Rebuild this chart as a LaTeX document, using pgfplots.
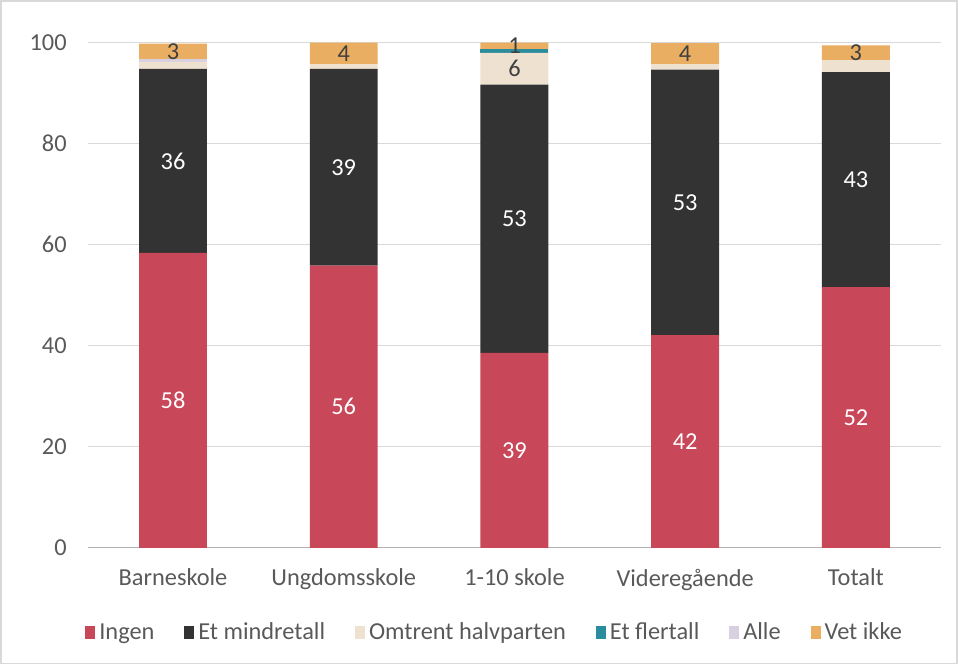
\documentclass[border=0pt]{standalone}
\usepackage{pgfplots}
\pgfplotsset{compat=1.18}
\usepackage{pgfplotstable}
\usepackage{fontspec}
\setmainfont{Carlito}
\definecolor{cIngen}{HTML}{C8485A}
\definecolor{cMind}{HTML}{333333}
\definecolor{cHalv}{HTML}{EEE1D0}
\definecolor{cFler}{HTML}{2A8C9C}
\definecolor{cAlle}{HTML}{D8D0E0}
\definecolor{cVet}{HTML}{E9AE61}
\definecolor{cText}{HTML}{595959}
\definecolor{cLab}{HTML}{404040}
\pgfplotstableread{
x ingen ingenl mind mindl halv halvl fler alle vet vetl
0 58.4 58 36.4 36 1.4 {} 0.0 0.6 3.0 3
1 55.9 56 38.9 39 0.9 {} 0.0 0.0 4.3 4
2 38.6 39 53.1 53 6.3 6 0.7 0.0 1.3 1
3 42.1 42 52.6 53 1.0 {} 0.0 0.0 4.2 4
4 51.6 52 42.6 43 2.3 {} 0.0 0.0 3.0 3
}\data
\begin{document}
\begin{tikzpicture}
\draw[black!15, line width=0.8pt] (-43.5pt,-58pt) rectangle (435.5pt,274pt);
\begin{axis}[
  at={(0,0)}, anchor=south west,
  scale only axis, width=427.5pt, height=253pt,
  ybar stacked, bar width=34pt,
  xmin=-0.5, xmax=4.5, ymin=0, ymax=100,
  xtick={0,...,4},
  xticklabels={Barneskole,Ungdomsskole,1-10 skole,Videregående,Totalt},
  ytick={0,20,...,100},
  ymajorgrids, grid style={draw=black!15, line width=0.5pt},
  axis line style={draw=none},
  major tick length=0pt,
  tick label style={font=\fontsize{12.2}{14}\selectfont, text=cText},
  /pgf/number format/assume math mode=true,
  yticklabel style={xshift=-7pt},
  xticklabel style={yshift=-7pt},
  legend columns=6,
  legend style={at={(0.478,-0.168)}, anchor=center, draw=none, fill=none,
    font=\fontsize{12.2}{14}\selectfont, text=cText,
    /tikz/every even column/.append style={column sep=13pt}},
  legend image code/.code={\fill[#1] (0pt,-3pt) rectangle (5pt,3.5pt);},
  point meta=explicit symbolic,
  every node near coord/.append style={anchor=center,
    font=\fontsize{12.2}{14}\selectfont},
]
\addplot[fill=cIngen, draw=none, nodes near coords, every node near coord/.append style={text=white}] table[x=x, y=ingen, meta=ingenl] {\data};
\addplot[fill=cMind, draw=none, nodes near coords, every node near coord/.append style={text=white}] table[x=x, y=mind, meta=mindl] {\data};
\addplot[fill=cHalv, draw=none, nodes near coords, every node near coord/.append style={text=cLab}] table[x=x, y=halv, meta=halvl] {\data};
\addplot[fill=cFler, draw=none] table[x=x, y=fler] {\data};
\addplot[fill=cAlle, draw=none] table[x=x, y=alle] {\data};
\addplot[fill=cVet, draw=none, nodes near coords, every node near coord/.append style={text=cLab}] table[x=x, y=vet, meta=vetl] {\data};
\legend{Ingen, Et mindretall, Omtrent halvparten, Et flertall, Alle, Vet ikke}
\draw[black!30, line width=0.6pt] (rel axis cs:0,0) -- (rel axis cs:1,0);
\end{axis}
\end{tikzpicture}
\end{document}
